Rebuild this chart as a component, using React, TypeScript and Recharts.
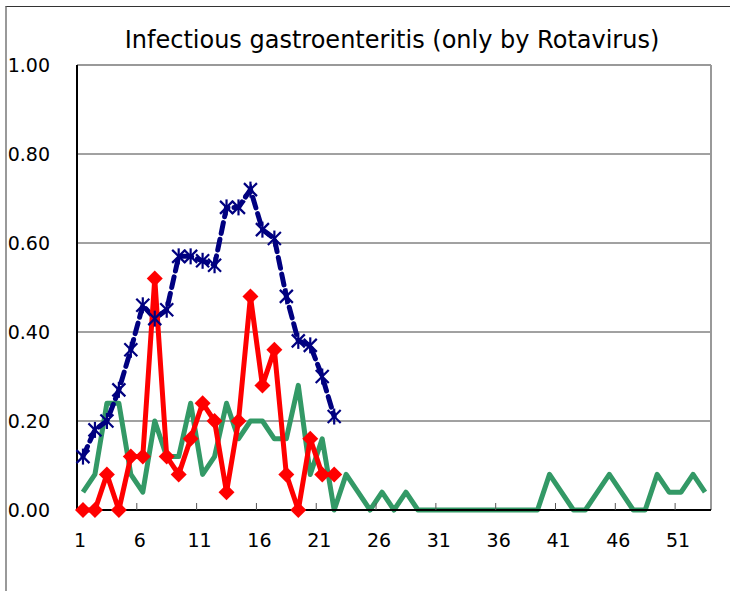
import React from 'react';
import { LineChart, Line, XAxis, YAxis, CartesianGrid, ReferenceLine } from 'recharts';

const weeks = [
  1, 2, 3, 4, 5, 6, 7, 8, 9, 10, 11, 12, 13, 14, 15, 16, 17, 18, 19, 20,
  21, 22, 23, 24, 25, 26, 27, 28, 29, 30, 31, 32, 33, 34, 35, 36, 37, 38, 39, 40,
  41, 42, 43, 44, 45, 46, 47, 48, 49, 50, 51, 52, 53
];

// dashed navy series with star markers (weeks 1-22)
const avgValues = [
  0.12, 0.18, 0.20, 0.27, 0.36, 0.46, 0.43, 0.45, 0.57, 0.57, 0.56,
  0.55, 0.68, 0.68, 0.72, 0.63, 0.61, 0.48, 0.38, 0.37, 0.30, 0.21
];

// red series with diamond markers (weeks 1-22)
const thisYear = [
  0, 0, 0.08, 0, 0.12, 0.12, 0.52, 0.12, 0.08, 0.16, 0.24,
  0.20, 0.04, 0.20, 0.48, 0.28, 0.36, 0.08, 0, 0.16, 0.08, 0.08
];

// green series (weeks 1-53)
const lastYear = [
  0.04, 0.08, 0.24, 0.24, 0.08, 0.04, 0.20, 0.12, 0.12, 0.24, 0.08,
  0.12, 0.24, 0.16, 0.20, 0.20, 0.16, 0.16, 0.28, 0.08, 0.16, 0,
  0.08, 0.04, 0, 0.04, 0, 0.04, 0, 0, 0, 0, 0, 0, 0, 0, 0, 0, 0,
  0.08, 0.04, 0, 0, 0.04, 0.08, 0.04, 0, 0, 0.08, 0.04, 0.04, 0.08, 0.04
];

const xTicks = [0.5, 5.5, 10.5, 15.5, 20.5, 25.5, 30.5, 35.5, 40.5, 45.5, 50.5];
const yTicks = [0, 0.2, 0.4, 0.6, 0.8, 1];

const FONT = '"DejaVu Sans", sans-serif';

const data = weeks.map((w, i) => ({
  week: w,
  avg: avgValues[i] ?? null,
  cur: thisYear[i] ?? null,
  prev: lastYear[i] ?? null
}));

const StarDot = (props: any) => {
  const { cx, cy, index } = props;
  if (cx == null || cy == null || props.value == null) return <g key={`s-${index}`} />;
  const s = 6.5;
  return (
    <g key={`s-${index}`} stroke="#000080" strokeWidth={2.2}>
      <line x1={cx - s} y1={cy - s} x2={cx + s} y2={cy + s} />
      <line x1={cx - s} y1={cy + s} x2={cx + s} y2={cy - s} />
      <line x1={cx} y1={cy - s - 1.5} x2={cx} y2={cy + s + 1.5} />
    </g>
  );
};

const DiamondDot = (props: any) => {
  const { cx, cy, index } = props;
  if (cx == null || cy == null || props.value == null) return <g key={`d-${index}`} />;
  const s = 8;
  return (
    <polygon
      key={`d-${index}`}
      points={`${cx},${cy - s} ${cx + s},${cy} ${cx},${cy + s} ${cx - s},${cy}`}
      fill="#ff0000"
    />
  );
};

const WeekTick = (props: any) => {
  const { x, y, payload } = props;
  return (
    <g>
      {payload.value > 1 && <line x1={x} y1={y - 7} x2={x} y2={y} stroke="#555" strokeWidth={1} />}
      <text x={x + 3} y={y + 37} textAnchor="middle" fontSize={19} fontFamily={FONT} fill="#000">
        {payload.value + 0.5}
      </text>
    </g>
  );
};

export default function App() {
  return (
    <div style={{ position: 'absolute', left: 0, top: 0, width: 730, height: 591, background: '#fff', overflow: 'hidden' }}>
      <div
        style={{
          position: 'absolute',
          left: 5,
          top: 6,
          width: 730,
          height: 600,
          borderLeft: '2px solid #999',
          borderTop: '1px solid #333'
        }}
      />
      <div
        style={{
          position: 'absolute',
          left: 392,
          top: 26,
          transform: 'translateX(-50%)',
          whiteSpace: 'nowrap',
          fontFamily: FONT,
          fontSize: 24,
          color: '#000'
        }}
      >
        Infectious gastroenteritis (only by Rotavirus)
      </div>
      <div style={{ position: 'absolute', left: 0, top: 0 }}>
        <LineChart width={730} height={591} data={data} margin={{ top: 65, right: 19, bottom: 0, left: 0 }}>
          <CartesianGrid vertical={false} stroke="#444" strokeWidth={1} />
          <XAxis
            dataKey="week"
            type="number"
            domain={[0.5, 53.5]}
            ticks={xTicks}
            interval={0}
            height={81}
            tickSize={0}
            tickMargin={0}
            tickLine={false}
            axisLine={{ stroke: '#000', strokeWidth: 2 }}
            tick={<WeekTick />}
          />
          <YAxis
            type="number"
            domain={[0, 1]}
            ticks={yTicks}
            interval={0}
            width={77}
            tickSize={0}
            tickMargin={27}
            tickLine={false}
            axisLine={{ stroke: '#000', strokeWidth: 2 }}
            tickFormatter={(v: number) => v.toFixed(2)}
            tick={{ fontSize: 19, fontFamily: FONT, fill: '#000' }}
          />
          <ReferenceLine y={1} stroke="#999" strokeWidth={2} />
          <ReferenceLine x={53.5} stroke="#999" strokeWidth={2} />
          <Line
            dataKey="prev"
            stroke="#339966"
            strokeWidth={5}
            strokeLinejoin="round"
            dot={false}
            activeDot={false}
            isAnimationActive={false}
          />
          <Line
            dataKey="avg"
            stroke="#000080"
            strokeWidth={5}
            strokeDasharray="11 6"
            strokeLinecap="round"
            dot={<StarDot />}
            activeDot={false}
            isAnimationActive={false}
          />
          <Line
            dataKey="cur"
            stroke="#ff0000"
            strokeWidth={5}
            strokeLinejoin="round"
            dot={<DiamondDot />}
            activeDot={false}
            isAnimationActive={false}
          />
        </LineChart>
      </div>
    </div>
  );
}
